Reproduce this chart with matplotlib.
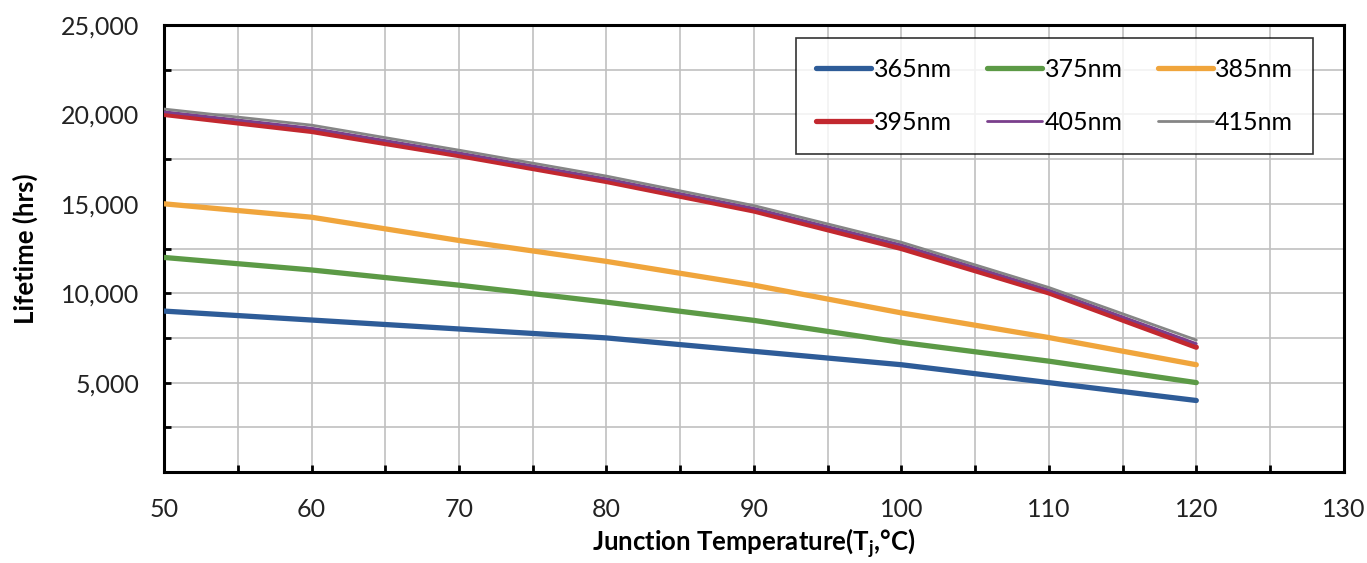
import matplotlib
matplotlib.use("Agg")
import matplotlib.pyplot as plt
from matplotlib.ticker import MultipleLocator, FuncFormatter

plt.rcParams['font.family'] = ['Lato', 'DejaVu Sans']
plt.rcParams['mathtext.fontset'] = 'custom'
plt.rcParams['mathtext.rm'] = 'Lato'
plt.rcParams['mathtext.bf'] = 'Lato:bold'

temps = [50, 60, 70, 80, 90, 100, 110, 120]
life_365 = [9000, 8500, 8000, 7500, 6750, 6000, 5000, 4000]
life_375 = [12000, 11300, 10450, 9500, 8480, 7250, 6200, 5000]
life_385 = [15000, 14250, 12950, 11780, 10450, 8900, 7520, 6000]
life_395 = [20000, 19050, 17700, 16250, 14600, 12500, 10020, 6980]
life_405 = [20150, 19230, 17850, 16400, 14750, 12700, 10180, 7180]
life_415 = [20300, 19400, 18000, 16550, 14900, 12850, 10320, 7380]

labels = ['365nm', '375nm', '385nm', '395nm', '405nm', '415nm']
colors = ['#2E5C98', '#5C9A46', '#F0A53C', '#C2282F', '#7A3F8C', '#858585']
widths = [3.8, 3.8, 3.8, 3.8, 2.0, 2.0]
series = [life_365, life_375, life_385, life_395, life_405, life_415]

fig = plt.figure(figsize=(13.67, 5.63), dpi=100)
ax = fig.add_axes([0.12, 0.1616, 0.863, 0.794])

lines = []
for vals, lab, c, w in zip(series, labels, colors, widths):
    ln, = ax.plot(temps, vals, color=c, lw=w, label=lab, solid_capstyle='round', zorder=3)
    lines.append(ln)

ax.set_xlim(50, 130)
ax.set_ylim(0, 25000)
ax.xaxis.set_major_locator(MultipleLocator(10))
ax.xaxis.set_minor_locator(MultipleLocator(5))
ax.yaxis.set_major_locator(MultipleLocator(5000))
ax.yaxis.set_minor_locator(MultipleLocator(2500))
ax.yaxis.set_major_formatter(FuncFormatter(lambda v, p: '' if v == 0 else f'{int(v):,}'))

ax.grid(True, which='both', color='#C0C0C0', lw=1.2, zorder=0)
ax.tick_params(which='both', direction='in', length=5, width=2, labelsize=18,
               labelcolor='#222222', top=False, right=False)
ax.tick_params(axis='x', pad=19)
ax.tick_params(axis='y', pad=18)
for s in ax.spines.values():
    s.set_linewidth(2.2)
    s.set_color('black')

ax.set_xlabel('Junction Temperature(T$\\mathbf{_j}$,°C)', fontsize=18.5,
              fontweight='bold', labelpad=4)
ax.set_ylabel('Lifetime (hrs)', fontsize=18.5, fontweight='bold', labelpad=16)

# row-major legend order
order = [0, 3, 1, 4, 2, 5]
leg = ax.legend([lines[i] for i in order], [labels[i] for i in order],
                ncol=3, loc='upper right', bbox_to_anchor=(0.974, 0.971),
                borderaxespad=0,
                fontsize=18, frameon=True, fancybox=False, edgecolor='black',
                handlelength=2.2, handletextpad=0.1, columnspacing=1.4,
                labelspacing=1.2, borderpad=0.8)
leg.get_frame().set_linewidth(1.2)

fig.savefig('out.png', dpi=100)
